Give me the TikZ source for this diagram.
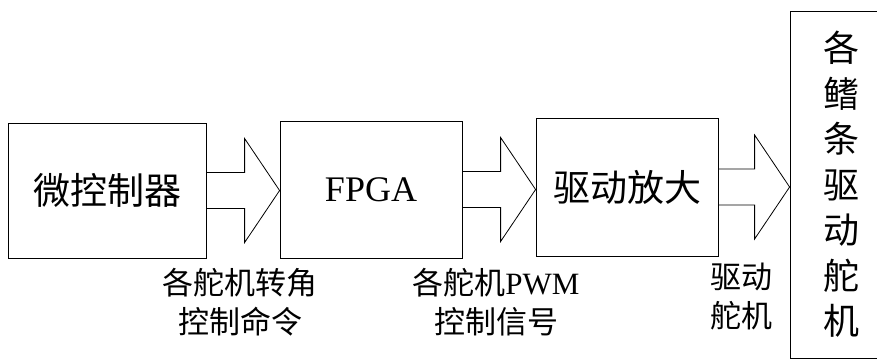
\documentclass[tikz,border=0pt]{standalone}
\usepackage{fontspec}
\setmainfont{Liberation Serif}
\newfontfamily\cjk{Noto Sans CJK SC}
\usetikzlibrary{calc}
\tikzset{
  blk/.style={draw, line width=0.8pt, inner sep=0pt},
  fat/.style={draw, line width=0.8pt, line join=miter},
  lbl/.style={align=center, inner sep=0pt, font=\fontsize{31}{39}\selectfont}
}
\newcommand\fatarrow[2]{%
  \draw[fat] let \p1=(#1.east), \p2=(#2.west) in
    (\x1,\y1+18pt) -- (\x2-35pt,\y1+18pt) -- (\x2-35pt,\y1+52pt) -- (\x2,\y1)
    -- (\x2-35pt,\y1-52pt) -- (\x2-35pt,\y1-18pt) -- (\x1,\y1-18pt);}
\begin{document}
\begin{tikzpicture}[x=1pt,y=-1pt]
\useasboundingbox (0,0) rectangle (877,360);
\node[blk, minimum width=198pt, minimum height=135pt, font=\cjk\fontsize{37}{37}\selectfont] (mcu) at (107,190.5) {微控制器};
\node[blk, minimum width=182pt, minimum height=137pt, font=\fontsize{36}{36}\selectfont] (fpga) at (371,189.5) {FPGA};
\node[blk, minimum width=182pt, minimum height=138pt, font=\cjk\fontsize{37}{37}\selectfont] (drv) at (627,187) {驱动放大};
\node[blk, minimum width=102pt, minimum height=347pt, align=center, font=\cjk\fontsize{36}{45.5}\selectfont] (fins) at (841,184.5) {各\\鳍\\条\\驱\\动\\舵\\机};
\fatarrow{mcu}{fpga}
\fatarrow{fpga}{drv}
\fatarrow{drv}{fins}
\node[lbl] (l1) at (240,302) {{\cjk 各舵机转角}\\{\cjk 控制命令}};
\node[lbl] (l2) at (496,302) {{\cjk 各舵机}PWM\\{\cjk 控制信号}};
\node[lbl] (l3) at (741,297) {{\cjk 驱动}\\{\cjk 舵机}};
\end{tikzpicture}
\end{document}
